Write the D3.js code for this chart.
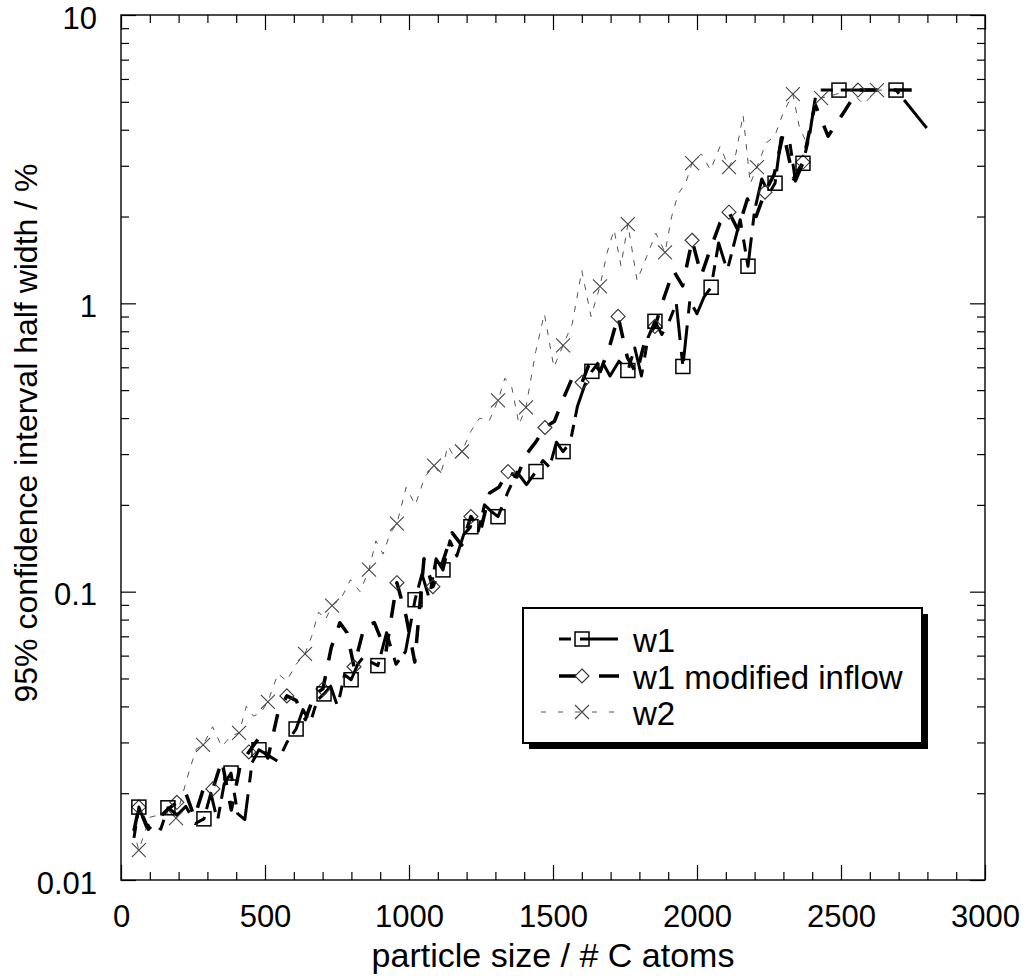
<!DOCTYPE html>
<html><head><meta charset="utf-8">
<script src="https://cdn.jsdelivr.net/npm/d3@7/dist/d3.min.js"></script>
<style>body{margin:0;background:#fff} text{font-family:"Liberation Sans",Arial,Helvetica,sans-serif;fill:#000}</style>
</head><body><svg id="c" width="1027" height="979"></svg>
<script>
// ---- data ----
const xTicks = [0, 500, 1000, 1500, 2000, 2500, 3000];
const xTickLabels = ["0", "500", "1000", "1500", "2000", "2500", "3000"];
const yTicks = [0.01, 0.1, 1, 10];
const yTickLabels = ["0.01", "0.1", "1", "10"];
const xTitle = "particle size / # C atoms";
const yTitle = "95% confidence interval half width / %";
const seriesNames = ["w1", "w1 modified inflow", "w2"];

const w1X = [45,62,88,112,138,163,195,225,258,288,312,335,358,382,405,430,455,479,512,545,576,608,632,657,681,705,728,752,776,799,822,845,868,892,922,955,988,1021,1045,1070,1094,1118,1142,1166,1190,1215,1238,1262,1285,1309,1342,1375,1408,1441,1465,1488,1512,1535,1560,1585,1610,1635,1666,1698,1729,1760,1784,1807,1830,1854,1878,1902,1928,1951,1975,2000,2024,2049,2075,2105,2150,2177,2200,2225,2250,2271,2292,2320,2342,2368,2392,2415,2455,2493,2540,2590,2640,2691,2722,2781,2809];
const w1Y = [0.0140,0.0179,0.0153,0.0158,0.0150,0.0178,0.0168,0.0180,0.0157,0.0163,0.0200,0.0160,0.0215,0.0235,0.0170,0.0162,0.0255,0.0283,0.0270,0.0258,0.0300,0.0334,0.0390,0.0350,0.0420,0.0442,0.0470,0.0400,0.0515,0.0495,0.0560,0.0600,0.0570,0.0554,0.0720,0.0560,0.0620,0.0938,0.115,0.095,0.130,0.119,0.150,0.133,0.158,0.168,0.158,0.200,0.190,0.182,0.220,0.260,0.235,0.261,0.285,0.270,0.330,0.306,0.330,0.440,0.520,0.581,0.640,0.560,0.630,0.585,0.700,0.560,0.760,0.866,0.780,0.860,1.00,0.604,1.02,0.92,1.05,1.137,1.62,1.30,1.95,1.345,2.10,2.70,2.40,2.61,3.75,3.75,2.65,3.06,3.90,5.49,5.49,5.49,5.49,5.49,5.49,5.49,5.03,4.25,3.93];

const w1mX = [45,62,95,128,160,194,225,255,288,319,350,383,414,444,478,510,545,576,608,640,672,701,730,760,785,809,845,880,920,958,990,1020,1052,1083,1115,1150,1183,1215,1248,1280,1312,1344,1375,1408,1440,1472,1505,1537,1570,1601,1632,1664,1695,1726,1758,1790,1822,1854,1886,1918,1950,1983,2015,2047,2080,2111,2142,2175,2205,2236,2268,2300,2335,2368,2410,2455,2510,2559,2620,2700,2785];
const w1mY = [0.0148,0.0179,0.0150,0.0163,0.0175,0.0186,0.0200,0.0165,0.0210,0.0207,0.0260,0.0175,0.0250,0.0278,0.0310,0.0265,0.0380,0.0435,0.0420,0.0360,0.0440,0.0460,0.0640,0.0780,0.0720,0.0549,0.0760,0.0780,0.0620,0.1074,0.0820,0.0570,0.130,0.1041,0.125,0.160,0.145,0.1822,0.162,0.220,0.230,0.261,0.250,0.300,0.330,0.371,0.390,0.470,0.560,0.532,0.640,0.580,0.700,0.901,0.650,0.570,0.760,0.832,1.05,1.30,1.15,1.655,1.25,1.55,1.90,2.07,1.80,2.30,2.00,2.43,2.80,3.90,2.70,3.09,4.90,3.80,4.60,5.49,5.49,5.49,5.49];

const w2X = [42,62,100,130,160,191,215,240,262,285,318,350,380,410,435,460,485,510,545,575,608,639,662,686,710,733,765,797,830,861,885,910,935,958,990,1022,1055,1087,1110,1135,1160,1184,1215,1245,1278,1309,1333,1357,1382,1406,1440,1470,1503,1535,1567,1600,1632,1663,1688,1712,1736,1760,1792,1825,1857,1889,1912,1935,1960,1983,2015,2047,2080,2111,2135,2160,2185,2208,2240,2270,2300,2333,2355,2380,2405,2431,2480,2530,2578,2625,2670];
const w2Y = [0.0150,0.0127,0.0165,0.0168,0.0170,0.0164,0.0200,0.0245,0.0285,0.0294,0.0340,0.0290,0.0315,0.0324,0.0400,0.0370,0.0380,0.0415,0.0520,0.0490,0.0560,0.0609,0.0700,0.0850,0.0800,0.0894,0.0950,0.110,0.100,0.1192,0.150,0.135,0.160,0.1722,0.230,0.200,0.250,0.2738,0.255,0.320,0.290,0.3063,0.360,0.400,0.390,0.4605,0.550,0.510,0.380,0.4355,0.680,0.920,0.600,0.715,0.850,1.30,0.900,1.146,1.50,1.80,1.35,1.881,1.20,1.45,1.75,1.503,2.00,2.40,2.60,3.063,3.30,2.90,3.50,2.967,3.30,4.50,2.60,2.967,3.60,3.80,4.60,5.32,4.10,3.60,4.80,5.15,5.30,5.49,4.90,5.49,5.49];

const markerStart = 1, markerEvery = 4;

// ---- layout ----
const M = {l: 121, r: 985, t: 15, b: 880};
const svg = d3.select("#c");
const x = d3.scaleLinear().domain([0, 3000]).range([M.l, M.r]);
const y = d3.scaleLog().domain([0.01, 10]).range([M.b, M.t]);

const xMinor = d3.range(100, 3000, 100).filter(v => v % 500 !== 0);
const yMinor = [];
[0.01, 0.1, 1].forEach(d => { for (let k = 2; k <= 9; k++) yMinor.push(d * k); });

function styleAxis(g) {
  g.select(".domain").remove();
  g.selectAll(".tick line").attr("stroke", "#000").attr("stroke-width", 1.2);
  g.selectAll(".tick text").style("font-size", "31px").attr("fill", "#000");
}
const fmtX = (d) => xTickLabels[xTicks.indexOf(d)];
const fmtY = (d) => yTickLabels[yTicks.findIndex(v => Math.abs(v - d) < 1e-9)];

svg.append("g").attr("transform", `translate(0,${M.b})`)
  .call(d3.axisBottom(x).tickValues(xTicks).tickFormat(fmtX).tickSize(-15).tickPadding(25)).call(styleAxis);
svg.append("g").attr("transform", `translate(0,${M.b})`)
  .call(d3.axisBottom(x).tickValues(xMinor).tickFormat("").tickSize(-8)).call(styleAxis);
svg.append("g").attr("transform", `translate(0,${M.t})`)
  .call(d3.axisTop(x).tickValues(xTicks).tickFormat("").tickSize(-15)).call(styleAxis);
svg.append("g").attr("transform", `translate(0,${M.t})`)
  .call(d3.axisTop(x).tickValues(xMinor).tickFormat("").tickSize(-8)).call(styleAxis);
const yAxisG = svg.append("g").attr("transform", `translate(${M.l},0)`)
  .call(d3.axisLeft(y).tickValues(yTicks).tickFormat(fmtY).tickSize(-15).tickPadding(24)).call(styleAxis);
yAxisG.selectAll(".tick text").attr("dy", "0.42em");
svg.append("g").attr("transform", `translate(${M.l},0)`)
  .call(d3.axisLeft(y).tickValues(yMinor).tickFormat("").tickSize(-8)).call(styleAxis);
svg.append("g").attr("transform", `translate(${M.r},0)`)
  .call(d3.axisRight(y).tickValues(yTicks).tickFormat("").tickSize(-15)).call(styleAxis);
svg.append("g").attr("transform", `translate(${M.r},0)`)
  .call(d3.axisRight(y).tickValues(yMinor).tickFormat("").tickSize(-8)).call(styleAxis);

svg.append("rect").attr("x", M.l).attr("y", M.t).attr("width", M.r - M.l).attr("height", M.b - M.t)
  .attr("fill", "none").attr("stroke", "#000").attr("stroke-width", 1.4);

// titles
svg.append("text").attr("x", (M.l + M.r) / 2).attr("y", 967).attr("text-anchor", "middle")
  .style("font-size", "34px").text(xTitle);
svg.append("text").attr("transform", "translate(37,433) rotate(-90)").attr("text-anchor", "middle")
  .style("font-size", "32px").text(yTitle);

// clip
svg.append("clipPath").attr("id", "clip").append("rect")
  .attr("x", M.l).attr("y", M.t).attr("width", M.r - M.l).attr("height", M.b - M.t);

const series = [
  {name: seriesNames[0], xs: w1X, ys: w1Y, color: "#000", width: 3, dash: "12,8,36,12", marker: "square"},
  {name: seriesNames[1], xs: w1mX, ys: w1mY, color: "#000", width: 3.5, dash: "18,16", marker: "diamond"},
  {name: seriesNames[2], xs: w2X, ys: w2Y, color: "#555", width: 1, dash: "6,8", marker: "cross"}
];

const line = d3.line().x(d => x(d[0])).y(d => y(d[1]));
const plot = svg.append("g").attr("clip-path", "url(#clip)");

function drawMarker(g, type, cx, cy) {
  if (type === "square") {
    g.append("rect").attr("x", cx - 7).attr("y", cy - 7).attr("width", 14).attr("height", 14)
      .attr("fill", "none").attr("stroke", "#000").attr("stroke-width", 1.5);
  } else if (type === "diamond") {
    g.append("path").attr("d", `M${cx},${cy - 7}L${cx + 7},${cy}L${cx},${cy + 7}L${cx - 7},${cy}Z`)
      .attr("fill", "none").attr("stroke", "#333").attr("stroke-width", 1.1);
  } else {
    g.append("path").attr("d", `M${cx - 7},${cy - 7}L${cx + 7},${cy + 7}M${cx - 7},${cy + 7}L${cx + 7},${cy - 7}`)
      .attr("fill", "none").attr("stroke", "#444").attr("stroke-width", 1.1);
  }
}

[2, 1, 0].forEach(i => {
  const s = series[i];
  const pts = s.xs.map((v, j) => [v, s.ys[j]]);
  plot.append("path").datum(pts).attr("d", line).attr("fill", "none")
    .attr("stroke", s.color).attr("stroke-width", s.width).attr("stroke-dasharray", s.dash)
    .attr("stroke-linejoin", "round");
});
[2, 1, 0].forEach(i => {
  const s = series[i];
  const mg = plot.append("g");
  s.xs.forEach((v, j) => {
    if (j >= markerStart && (j - markerStart) % markerEvery === 0) drawMarker(mg, s.marker, x(v), y(s.ys[j]));
  });
});

// legend
const lg = svg.append("g");
lg.append("rect").attr("x", 529).attr("y", 614).attr("width", 399).attr("height", 135).attr("fill", "#000");
lg.append("rect").attr("x", 523).attr("y", 608).attr("width", 399).attr("height", 135)
  .attr("fill", "#fff").attr("stroke", "#000").attr("stroke-width", 2);
const rows = [639, 676, 712];
lg.append("line").attr("x1", 559).attr("x2", 571).attr("y1", rows[0]).attr("y2", rows[0]).attr("stroke", "#000").attr("stroke-width", 3);
lg.append("line").attr("x1", 580).attr("x2", 618).attr("y1", rows[0]).attr("y2", rows[0]).attr("stroke", "#000").attr("stroke-width", 3);
drawMarker(lg, "square", 582, rows[0]);
lg.append("line").attr("x1", 559).attr("x2", 577).attr("y1", rows[1]).attr("y2", rows[1]).attr("stroke", "#000").attr("stroke-width", 3.5);
lg.append("line").attr("x1", 599).attr("x2", 619).attr("y1", rows[1]).attr("y2", rows[1]).attr("stroke", "#000").attr("stroke-width", 3.5);
lg.append("rect").attr("x", 576).attr("y", rows[1] - 7).attr("width", 12).attr("height", 14).attr("fill", "#fff");
drawMarker(lg, "diamond", 582, rows[1]);
lg.append("line").attr("x1", 541).attr("x2", 623).attr("y1", rows[2]).attr("y2", rows[2]).attr("stroke", "#555").attr("stroke-width", 1).attr("stroke-dasharray", "5,12");
drawMarker(lg, "cross", 582, rows[2]);
seriesNames.forEach((n, i) => {
  lg.append("text").attr("x", 633).attr("y", rows[i] + 13).style("font-size", "33px").text(n);
});
</script></body></html>
